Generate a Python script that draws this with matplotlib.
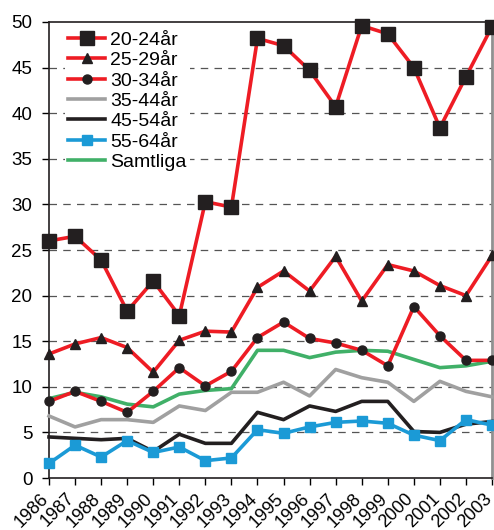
import matplotlib
matplotlib.use("Agg")
import matplotlib.pyplot as plt
import matplotlib.transforms as mtransforms

years = list(range(1986, 2004))
s20_24 = [26.0, 26.5, 23.9, 18.3, 21.6, 17.8, 30.3, 29.7, 48.2, 47.4, 44.7, 40.7, 49.6, 48.7, 45.0, 38.4, 44.0, 49.5]
s25_29 = [13.6, 14.7, 15.4, 14.3, 11.6, 15.1, 16.1, 16.0, 20.9, 22.7, 20.5, 24.3, 19.4, 23.4, 22.7, 21.1, 20.0, 24.4]
s30_34 = [8.4, 9.5, 8.4, 7.2, 9.5, 12.1, 10.1, 11.7, 15.4, 17.1, 15.3, 14.8, 14.0, 12.3, 18.8, 15.6, 12.9, 12.9]
s35_44 = [6.8, 5.6, 6.4, 6.4, 6.1, 7.9, 7.4, 9.4, 9.4, 10.5, 9.0, 11.9, 11.0, 10.5, 8.4, 10.6, 9.5, 8.9]
s45_54 = [4.5, 4.35, 4.2, 4.35, 2.9, 4.8, 3.8, 3.8, 7.2, 6.4, 7.9, 7.3, 8.4, 8.4, 5.1, 5.0, 5.9, 6.2]
s55_64 = [1.6, 3.6, 2.3, 4.1, 2.8, 3.4, 1.9, 2.2, 5.3, 4.9, 5.6, 6.1, 6.25, 6.0, 4.7, 4.1, 6.4, 5.8]
samtliga = [8.7, 9.4, 8.9, 8.1, 7.8, 9.2, 9.6, 9.8, 14.0, 14.0, 13.2, 13.8, 14.0, 13.9, 13.0, 12.1, 12.3, 12.8]
labels = ["20-24år", "25-29år", "30-34år", "35-44år", "45-54år", "55-64år", "Samtliga"]
yticks = [0, 5, 10, 15, 20, 25, 30, 35, 40, 45, 50]

plt.rcParams['font.family'] = ['Liberation Sans', 'DejaVu Sans']

fig = plt.figure(figsize=(4.94, 5.30), dpi=100)
ax = fig.add_axes([0.0992, 0.0981, 0.8968, 0.8604])

RED = '#ee1c24'
BLK = '#231f20'
lw = 2.6

ax.plot(years, s20_24, color=RED, lw=lw, marker='s', ms=10, mfc=BLK, mec=BLK, label=labels[0], clip_on=False, zorder=5)
ax.plot(years, s25_29, color=RED, lw=lw, marker='^', ms=7, mfc=BLK, mec=BLK, label=labels[1], clip_on=False, zorder=5)
ax.plot(years, s30_34, color=RED, lw=lw, marker='o', ms=6.5, mfc=BLK, mec=BLK, label=labels[2], clip_on=False, zorder=5)
ax.plot(years, s35_44, color='#a0a0a0', lw=lw, label=labels[3], clip_on=False, zorder=4)
ax.plot(years, s45_54, color=BLK, lw=lw, label=labels[4], clip_on=False, zorder=4)
ax.plot(years, s55_64, color='#1b9ad6', lw=lw, marker='s', ms=7, mfc='#1b9ad6', mec='#1b9ad6', label=labels[5], clip_on=False, zorder=5)
ax.plot(years, samtliga, color='#40b068', lw=lw, label=labels[6], clip_on=False, zorder=4)

ax.set_xlim(1986, 2003)
ax.set_ylim(0, 50)
ax.set_yticks(yticks)
ax.set_xticks(years)
ax.set_xticklabels([])
# rotated year labels, shifted left/down like the reference
offset = mtransforms.ScaledTranslation(-9 / 100, -12 / 100, fig.dpi_scale_trans)
trans = ax.get_xaxis_transform() + offset
for y in years:
    ax.text(y, 0, str(y), transform=trans, rotation=45, ha='right', va='top',
            rotation_mode='anchor', fontsize=13, clip_on=False)
ax.tick_params(axis='y', labelsize=13.5, length=5, width=1, direction='out', pad=7)
ax.tick_params(axis='x', length=5, width=1, direction='out', pad=2)

for y in yticks[1:-1]:
    ax.axhline(y, color='#555555', lw=0.9, ls=(0, (6, 5)), zorder=1)

for s in ['left', 'bottom', 'top']:
    ax.spines[s].set_color(BLK)
    ax.spines[s].set_linewidth(1.2)
ax.spines['right'].set_color('#909090')
ax.spines['right'].set_linewidth(2)

leg = ax.legend(loc='upper left', bbox_to_anchor=(0.035, 0.988), fontsize=14, frameon=True,
                framealpha=1, edgecolor='none', facecolor='white', handlelength=1.9,
                labelspacing=0.14, handletextpad=0.25, borderpad=0.2, borderaxespad=0)
leg.set_zorder(10)

fig.savefig('out.png', dpi=100)
